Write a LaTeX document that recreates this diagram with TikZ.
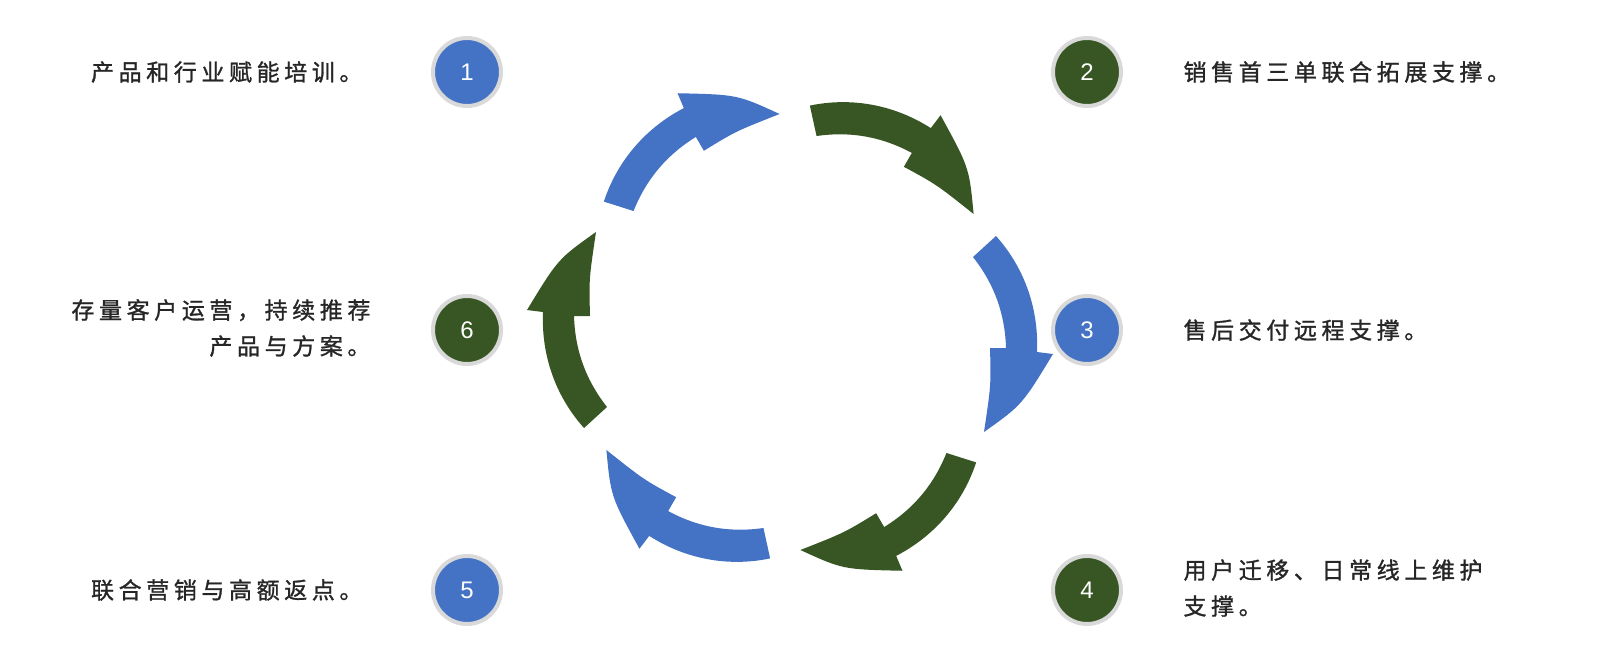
\documentclass[tikz,border=0pt]{standalone}
\usepackage{fontspec}
\setmainfont{Liberation Sans}
\newfontfamily\cjk[LetterSpace=20,FakeBold=1.2]{Noto Sans CJK SC}
\definecolor{cb}{HTML}{4472C4}
\definecolor{cg}{HTML}{375623}
\definecolor{ring}{HTML}{D9D9D9}
\definecolor{tx}{HTML}{262626}
\begin{document}
\begin{tikzpicture}[x=1pt,y=-1pt,
  num/.style={circle,minimum size=68pt,draw=ring,line width=4pt,text=white,font=\fontsize{24}{24}\selectfont},
  lab/.style={text=tx,font=\cjk\fontsize{23}{36}\selectfont}]
\useasboundingbox (0,0) rectangle (1600,650);
\def\arrowseg#1#2{%
  \begin{scope}[shift={(790,332)},y=1pt,rotate=#1,shift={(-13,7)}]
  \fill[#2] (219,89) -- (196,68) .. controls (218,40) and (228,10) .. (229,-23)
    -- (213,-23) .. controls (214,-60) .. (207,-107)
    .. controls (245,-80) .. (276,-29) -- (260,-27)
    .. controls (262,20) and (245,60) .. (219,89) -- cycle;
  \end{scope}}
\arrowseg{120}{cb}
\arrowseg{60}{cg}
\arrowseg{0}{cb}
\arrowseg{-60}{cg}
\arrowseg{-120}{cb}
\arrowseg{180}{cg}
\node[num,fill=cb] (n1) at (467,72) {1};
\node[num,fill=cg] (n2) at (1087,72) {2};
\node[num,fill=cb] (n3) at (1087,330) {3};
\node[num,fill=cg] (n4) at (1087,590) {4};
\node[num,fill=cb] (n5) at (467,590) {5};
\node[num,fill=cg] (n6) at (467,330) {6};
\node[lab,anchor=east] (t1) at (366,72) {产品和行业赋能培训。};
\node[lab,anchor=west] (t2) at (1180,72) {销售首三单联合拓展支撑。};
\node[lab,anchor=west] (t3) at (1180,330) {售后交付远程支撑。};
\node[lab,anchor=west,align=left] (t4) at (1180,588) {用户迁移、日常线上维护\\支撑。};
\node[lab,anchor=east] (t5) at (366,590) {联合营销与高额返点。};
\node[lab,anchor=east,align=right] (t6) at (374,328) {存量客户运营，持续推荐\\产品与方案。};
\end{tikzpicture}
\end{document}
